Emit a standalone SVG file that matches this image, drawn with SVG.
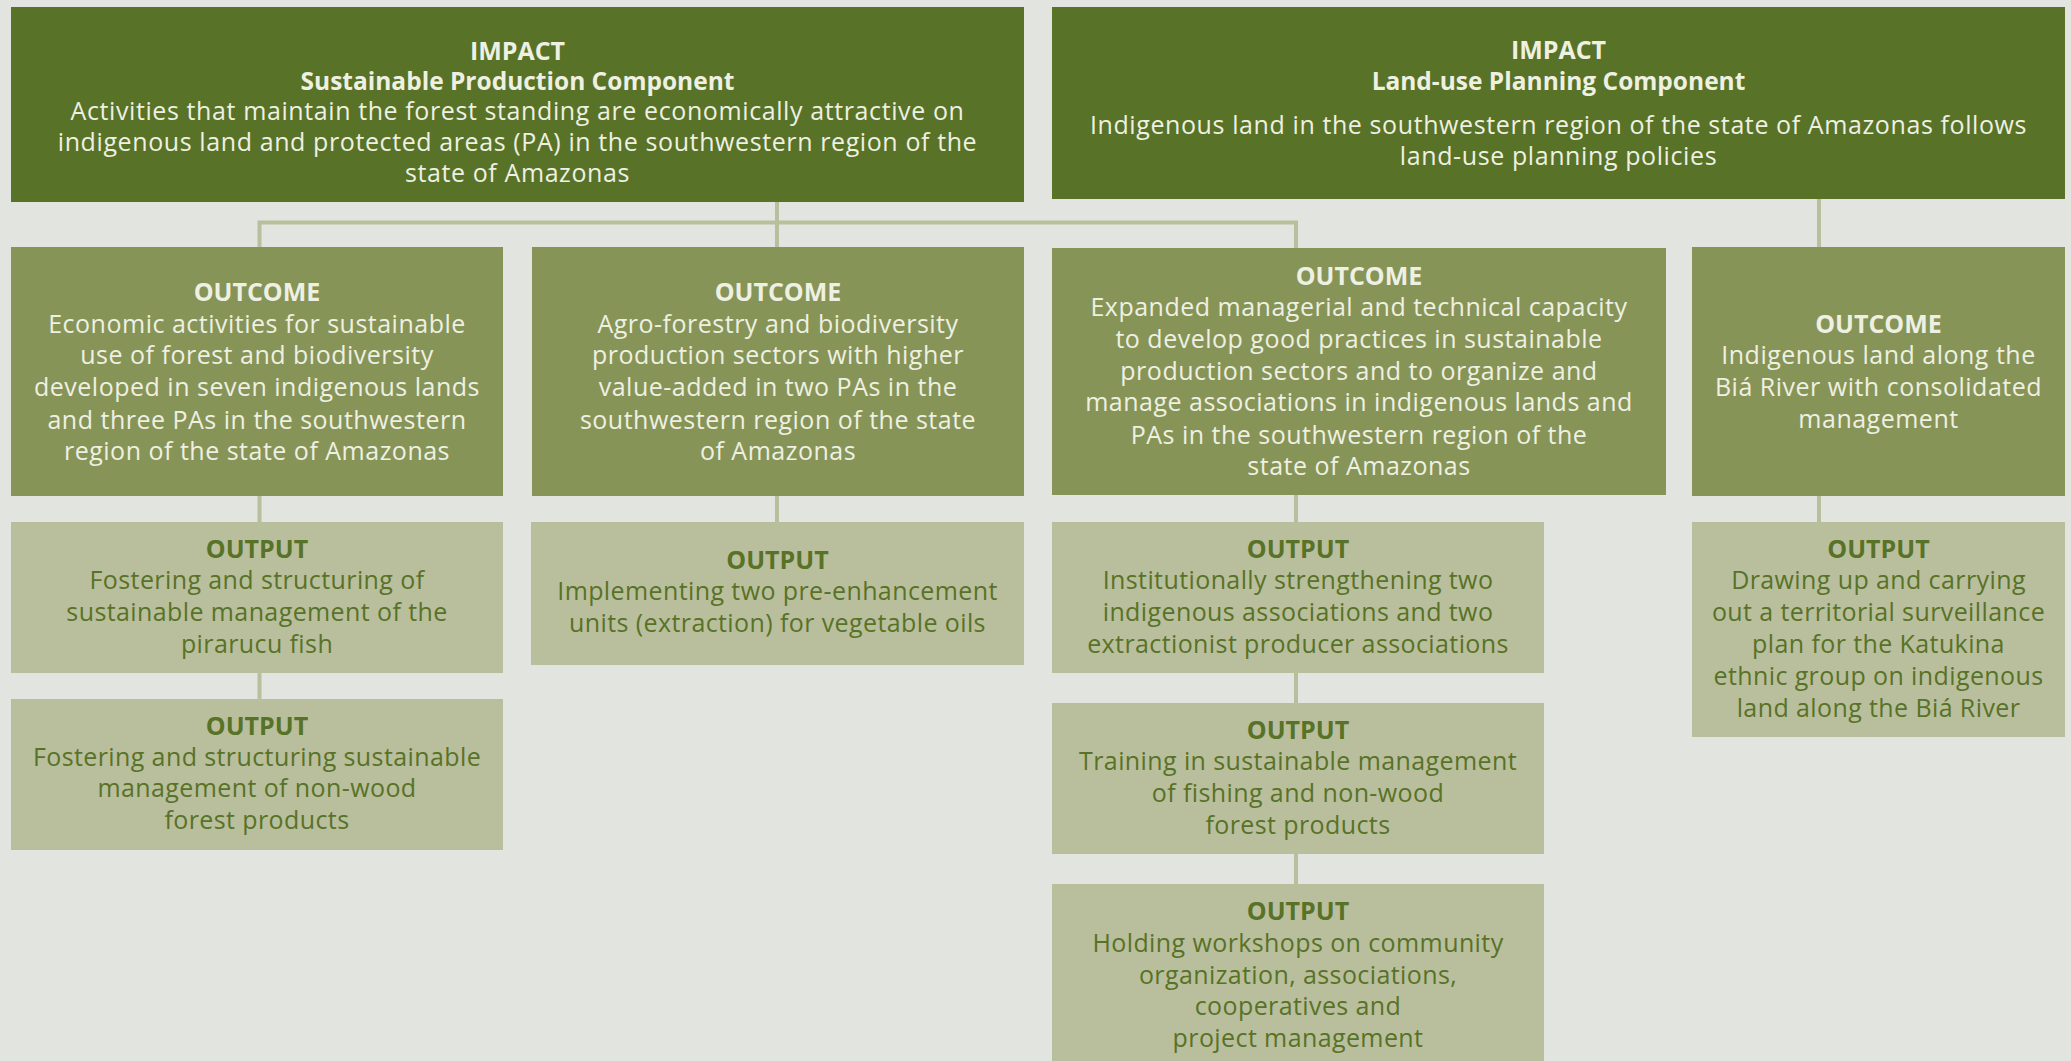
<svg xmlns="http://www.w3.org/2000/svg" width="2071" height="1061" viewBox="0 0 2071 1061">
<style>
.bg{fill:#e2e4df}
.impact{fill:#587227}
.outcome{fill:#879457}
.output{fill:#b9bf9c}
text{font-family:"Open Sans","Noto Sans","DejaVu Sans",sans-serif;font-size:25px;letter-spacing:0.5px;text-anchor:middle}
.lt{fill:#eef0e2}
.dk{fill:#587227}
.b{font-weight:bold;letter-spacing:0}
.sub{font-size:24.5px}
.ib{letter-spacing:0.6px}
.ob{letter-spacing:0.4px}
.conn{fill:none;stroke:#b9bf9c;stroke-width:4}
</style>
<rect class="bg" x="0" y="0" width="2071" height="1061"/>
<g id="connectors">
<path class="conn" d="M259.5 247 V222.5 H1296 V248"/>
<path class="conn" d="M777 202 V247"/>
<path class="conn" d="M1819 199 V247"/>
<path class="conn" d="M259.5 496 V522 M259.5 673 V699"/>
<path class="conn" d="M777 496 V522"/>
<path class="conn" d="M1296 495 V522 M1296 673 V703 M1296 854 V884"/>
<path class="conn" d="M1819 496 V522"/>
</g>
<g id="impact-sustainable">
<rect class="impact" x="11" y="7" width="1013" height="195"/>
<text class="lt b" x="517.5" y="60">IMPACT</text>
<text class="lt b sub" x="517.5" y="90">Sustainable Production Component</text>
<text class="lt ib" x="517.5" y="120">Activities that maintain the forest standing are economically attractive on</text>
<text class="lt ib" x="517.5" y="151">indigenous land and protected areas (PA) in the southwestern region of the</text>
<text class="lt ib" x="517.5" y="182">state of Amazonas</text>
</g>
<g id="impact-landuse">
<rect class="impact" x="1052" y="7" width="1013" height="192"/>
<text class="lt b" x="1558.5" y="59">IMPACT</text>
<text class="lt b sub" x="1558.5" y="90">Land-use Planning Component</text>
<text class="lt ib" x="1558.5" y="134">Indigenous land in the southwestern region of the state of Amazonas follows</text>
<text class="lt ib" x="1558.5" y="165">land-use planning policies</text>
</g>
<g id="outcome-1">
<rect class="outcome" x="11" y="247" width="492" height="249"/>
<text class="lt b" x="257" y="301">OUTCOME</text>
<text class="lt" x="257" y="333">Economic activities for sustainable</text>
<text class="lt" x="257" y="364">use of forest and biodiversity</text>
<text class="lt" x="257" y="396">developed in seven indigenous lands</text>
<text class="lt" x="257" y="429">and three PAs in the southwestern</text>
<text class="lt" x="257" y="460">region of the state of Amazonas</text>
</g>
<g id="outcome-2">
<rect class="outcome" x="532" y="247" width="492" height="249"/>
<text class="lt b" x="778" y="301">OUTCOME</text>
<text class="lt" x="778" y="333">Agro-forestry and biodiversity</text>
<text class="lt" x="778" y="364">production sectors with higher</text>
<text class="lt" x="778" y="396">value-added in two PAs in the</text>
<text class="lt" x="778" y="429">southwestern region of the state</text>
<text class="lt" x="778" y="460">of Amazonas</text>
</g>
<g id="outcome-3">
<rect class="outcome" x="1052" y="248" width="614" height="247"/>
<text class="lt b" x="1359" y="285">OUTCOME</text>
<text class="lt" x="1359" y="316">Expanded managerial and technical capacity</text>
<text class="lt" x="1359" y="348">to develop good practices in sustainable</text>
<text class="lt" x="1359" y="380">production sectors and to organize and</text>
<text class="lt" x="1359" y="411">manage associations in indigenous lands and</text>
<text class="lt" x="1359" y="444">PAs in the southwestern region of the</text>
<text class="lt" x="1359" y="475">state of Amazonas</text>
</g>
<g id="outcome-4">
<rect class="outcome" x="1692" y="247" width="373" height="249"/>
<text class="lt b" x="1878.5" y="333">OUTCOME</text>
<text class="lt" x="1878.5" y="364">Indigenous land along the</text>
<text class="lt" x="1878.5" y="396">Biá River with consolidated</text>
<text class="lt" x="1878.5" y="428">management</text>
</g>
<g id="output-1a">
<rect class="output" x="11" y="522" width="492" height="151"/>
<text class="dk b" x="257" y="558">OUTPUT</text>
<text class="dk ob" x="257" y="589">Fostering and structuring of</text>
<text class="dk ob" x="257" y="621">sustainable management of the</text>
<text class="dk ob" x="257" y="653">pirarucu fish</text>
</g>
<g id="output-1b">
<rect class="output" x="11" y="699" width="492" height="151"/>
<text class="dk b" x="257" y="735">OUTPUT</text>
<text class="dk ob" x="257" y="766">Fostering and structuring sustainable</text>
<text class="dk ob" x="257" y="797">management of non-wood</text>
<text class="dk ob" x="257" y="829">forest products</text>
</g>
<g id="output-2">
<rect class="output" x="531" y="522" width="493" height="143"/>
<text class="dk b" x="777.5" y="569">OUTPUT</text>
<text class="dk ob" x="777.5" y="600">Implementing two pre-enhancement</text>
<text class="dk ob" x="777.5" y="632">units (extraction) for vegetable oils</text>
</g>
<g id="output-3a">
<rect class="output" x="1052" y="522" width="492" height="151"/>
<text class="dk b" x="1298" y="558">OUTPUT</text>
<text class="dk ob" x="1298" y="589">Institutionally strengthening two</text>
<text class="dk ob" x="1298" y="621">indigenous associations and two</text>
<text class="dk ob" x="1298" y="653">extractionist producer associations</text>
</g>
<g id="output-3b">
<rect class="output" x="1052" y="703" width="492" height="151"/>
<text class="dk b" x="1298" y="739">OUTPUT</text>
<text class="dk ob" x="1298" y="770">Training in sustainable management</text>
<text class="dk ob" x="1298" y="802">of fishing and non-wood</text>
<text class="dk ob" x="1298" y="834">forest products</text>
</g>
<g id="output-3c">
<rect class="output" x="1052" y="884" width="492" height="177"/>
<text class="dk b" x="1298" y="920">OUTPUT</text>
<text class="dk ob" x="1298" y="952">Holding workshops on community</text>
<text class="dk ob" x="1298" y="984">organization, associations,</text>
<text class="dk ob" x="1298" y="1015">cooperatives and</text>
<text class="dk ob" x="1298" y="1047">project management</text>
</g>
<g id="output-4">
<rect class="output" x="1692" y="522" width="373" height="215"/>
<text class="dk b" x="1878.5" y="558">OUTPUT</text>
<text class="dk ob" x="1878.5" y="589">Drawing up and carrying</text>
<text class="dk ob" x="1878.5" y="621">out a territorial surveillance</text>
<text class="dk ob" x="1878.5" y="653">plan for the Katukina</text>
<text class="dk ob" x="1878.5" y="685">ethnic group on indigenous</text>
<text class="dk ob" x="1878.5" y="717">land along the Biá River</text>
</g>
</svg>
